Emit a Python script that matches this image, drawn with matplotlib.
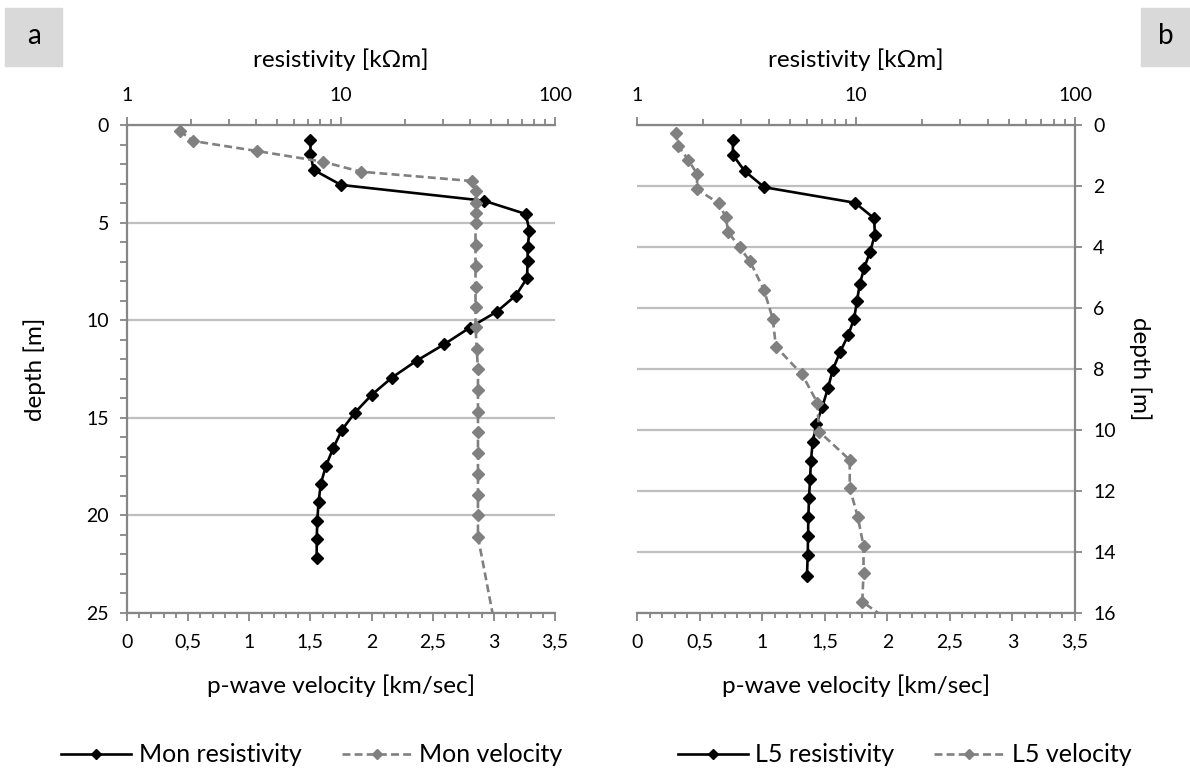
# depth profiles: resistivity (log, top) and p-wave velocity (bottom) vs depth

import matplotlib.pyplot as plt
from matplotlib.patches import Rectangle
from matplotlib.ticker import MultipleLocator, FuncFormatter, LogLocator, NullFormatter, FixedLocator

plt.rcParams['font.family'] = ['Lato', 'DejaVu Sans']

# panel a - Mon
mon_res_depth = [0.77, 1.5, 2.3, 3.07, 3.88, 4.56, 5.43, 6.23, 6.97, 7.85, 8.74, 9.56, 10.38,
                 11.24, 12.07, 12.94, 13.83, 14.74, 15.62, 16.55, 17.47, 18.37, 19.33, 20.27, 21.2, 22.16]
mon_res = [7.2, 7.2, 7.45, 10.0, 46.6, 73.0, 76.0, 74.5, 74.5, 74.0, 65.5, 53.5, 40.0,
           30.3, 22.6, 17.3, 13.9, 11.6, 10.1, 9.2, 8.5, 8.05, 7.85, 7.75, 7.7, 7.7]
mon_vel_depth = [0.29, 0.82, 1.33, 1.88, 2.39, 2.87, 3.38, 4.0, 4.5, 5.04, 6.15, 7.24, 8.28,
                 9.3, 10.33, 11.47, 12.5, 13.6, 14.7, 15.74, 16.8, 17.9, 18.95, 20.0, 21.1, 27.0]
mon_vel = [0.43, 0.54, 1.06, 1.6, 1.91, 2.82, 2.85, 2.85, 2.85, 2.85, 2.85, 2.85, 2.85,
           2.85, 2.85, 2.86, 2.87, 2.87, 2.87, 2.87, 2.87, 2.87, 2.87, 2.87, 2.87, 3.05]

# panel b - L5
l5_res_depth = [0.49, 0.98, 1.51, 2.04, 2.55, 3.06, 3.6, 4.15, 4.69, 5.22, 5.78, 6.35, 6.9,
                7.45, 8.03, 8.63, 9.26, 9.8, 10.4, 11.0, 11.6, 12.24, 12.86, 13.47, 14.1, 14.78]
l5_res = [2.74, 2.74, 3.1, 3.81, 9.9, 12.1, 12.2, 11.6, 10.9, 10.4, 10.1, 9.8, 9.2,
          8.45, 7.83, 7.45, 7.0, 6.6, 6.34, 6.23, 6.17, 6.1, 6.06, 6.04, 6.02, 5.97]
l5_vel_depth = [0.25, 0.69, 1.15, 1.6, 2.11, 2.57, 3.03, 3.52, 4.01, 4.45, 5.41, 6.36, 7.27,
                8.18, 9.1, 10.05, 10.98, 11.9, 12.86, 13.8, 14.7, 15.63, 16.5]
l5_vel = [0.31, 0.33, 0.41, 0.48, 0.48, 0.655, 0.71, 0.73, 0.82, 0.9, 1.015, 1.085, 1.11,
          1.32, 1.44, 1.455, 1.70, 1.70, 1.765, 1.81, 1.81, 1.80, 2.10]

GREY = '#808080'
SPINE = '#868686'
GRID = '#bfbfbf'
W, H = 1190, 771
TICK_FS = 14
LABEL_FS = 17.5

fig = plt.figure(figsize=(W / 100, H / 100), dpi=100)


def comma(v, pos):
    return f"{v:g}".replace('.', ',')


def panel(left_px, right_px, res_depth, res, vel_depth, vel, max_depth, major, minor, side,
          res_label, vel_label):
    top_px, bot_px = 125, 613
    rect = [left_px / W, 1 - bot_px / H, (right_px - left_px) / W, (bot_px - top_px) / H]
    ax = fig.add_axes(rect)
    ax.set_xscale('log')
    ax.set_xlim(1, 100)
    ax.set_ylim(max_depth, 0)
    res_line, = ax.plot(res, res_depth, color='black', lw=1.9, marker='D', ms=6.5,
                        label=res_label, zorder=3)

    axv = ax.twiny()
    axv.set_xlim(0, 3.5)
    vel_line, = axv.plot(vel, vel_depth, color=GREY, lw=1.9, ls=(0, (3, 1.6)), marker='D',
                         ms=6.5, label=vel_label, zorder=3)

    # top log axis
    ax.xaxis.set_ticks_position('top')
    ax.xaxis.set_label_position('top')
    ax.xaxis.set_major_locator(FixedLocator([1, 10, 100]))
    ax.xaxis.set_major_formatter(FuncFormatter(lambda v, p: f"{v:g}"))
    ax.xaxis.set_minor_locator(LogLocator(base=10, subs=range(2, 10)))
    ax.xaxis.set_minor_formatter(NullFormatter())
    ax.tick_params(axis='x', which='major', direction='out', length=6, width=1.3, color=SPINE,
                   labelsize=TICK_FS, pad=9)
    ax.tick_params(axis='x', which='minor', direction='out', length=4, width=1.3, color=SPINE)
    ax.set_xlabel('resistivity [kΩm]', fontsize=LABEL_FS)
    ax.xaxis.set_label_coords(0.5, 1.133)
    ax.xaxis.label.set_va('center')

    # depth axis
    ax.yaxis.set_major_locator(MultipleLocator(major))
    if minor:
        ax.yaxis.set_minor_locator(MultipleLocator(minor))
    ax.tick_params(axis='y', which='both', direction='out', length=5, width=1.3, color=SPINE,
                   labelsize=TICK_FS, pad=8)
    ax.yaxis.grid(True, which='major', color=GRID, lw=1.6)
    ax.set_axisbelow(True)
    ax.set_ylabel('depth [m]', fontsize=LABEL_FS)
    if side == 'right':
        ax.yaxis.tick_right()
        ax.yaxis.set_label_position('right')
        ax.yaxis.label.set_rotation(270)
        ax.yaxis.set_label_coords(1.148, 0.5)
    else:
        ax.yaxis.set_label_coords(-0.215, 0.5)
    ax.yaxis.label.set_va('center')

    # bottom velocity axis
    axv.xaxis.set_ticks_position('bottom')
    axv.xaxis.set_label_position('bottom')
    axv.xaxis.set_major_locator(MultipleLocator(0.5))
    axv.xaxis.set_minor_locator(MultipleLocator(0.1))
    axv.xaxis.set_major_formatter(FuncFormatter(comma))
    axv.tick_params(axis='x', which='major', direction='out', length=6, width=1.3, color=SPINE,
                    labelsize=TICK_FS, pad=9)
    axv.tick_params(axis='x', which='minor', direction='out', length=3.5, width=1.3, color=SPINE)
    axv.set_xlabel('p-wave velocity [km/sec]', fontsize=LABEL_FS)
    axv.xaxis.set_label_coords(0.5, -0.148)
    axv.xaxis.label.set_va('center')

    for s in axv.spines.values():
        s.set_visible(False)
    axv.spines['bottom'].set_visible(True)
    for name, s in ax.spines.items():
        s.set_color(SPINE)
        s.set_linewidth(1.6)
    axv.spines['bottom'].set_color(SPINE)
    axv.spines['bottom'].set_linewidth(1.6)
    ax.spines['bottom'].set_visible(False)
    ax.spines['right' if side == 'left' else 'left'].set_visible(False)
    return [res_line, vel_line]


h_a = panel(127, 555, mon_res_depth, mon_res, mon_vel_depth, mon_vel, 25, 5, 1, 'left',
            'Mon resistivity', 'Mon velocity')
h_b = panel(637, 1075, l5_res_depth, l5_res, l5_vel_depth, l5_vel, 16, 2, None, 'right',
            'L5 resistivity', 'L5 velocity')

# panel letters
for x0, x1, letter in [(5, 62, 'a'), (1141, 1190, 'b')]:
    fig.patches.append(Rectangle((x0 / W, 1 - 66 / H), (x1 - x0) / W, 58 / H,
                                 transform=fig.transFigure, color='#d9d9d9', zorder=0))
    fig.text((x0 + x1) / 2 / W, 1 - 36 / H, letter, fontsize=20, ha='center', va='center')

for handles, xc in [(h_a, 0.262), (h_b, 0.760)]:
    fig.legend(handles, [h.get_label() for h in handles], loc='center',
               bbox_to_anchor=(xc, 1 - 755 / H), ncol=2, frameon=False, fontsize=18,
               handlelength=2.8, columnspacing=1.6, handletextpad=0.3, markerscale=0.75)

fig.savefig('out.png', dpi=100)
